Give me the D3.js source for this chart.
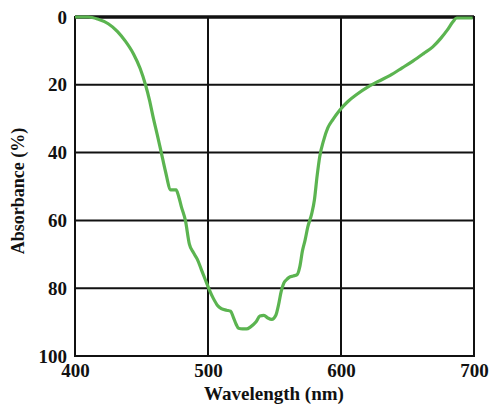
<!DOCTYPE html>
<html>
<head>
<meta charset="utf-8">
<script src="https://cdn.jsdelivr.net/npm/d3@7"></script>
<style>
  body { margin: 0; background: #fff; }
  text { font-family: "Liberation Serif", "DejaVu Serif", serif; font-weight: bold; fill: #111; }
</style>
</head>
<body>
<script>
  // wavelength (nm) / absorbance (%)
  var wavelength = [400, 410, 417, 425, 432, 438, 444, 449, 453, 456, 459, 462, 465, 468, 472, 476, 478, 480, 483, 486, 489, 492, 495, 498, 501, 504, 507, 510, 514, 517, 519, 521, 523, 526, 529, 532, 536, 539, 542, 545, 548, 551, 553, 555, 557, 559, 561, 564, 567, 569, 571, 573, 575, 578, 580, 582, 584, 587, 590, 594, 599, 605, 612, 620, 628, 637, 646, 654, 662, 669, 675, 680, 684, 687, 693, 699];
  var absorbance = [0, 0, 0.6, 2, 4.3, 7.2, 10.9, 15.2, 20, 24.5, 30, 35, 40.2, 45.5, 51, 51, 53, 56, 60, 67, 69.5, 71.5, 74.5, 77.5, 80.5, 83, 85, 86, 86.5, 86.8, 88.5, 90.5, 91.8, 92, 92, 91.4, 90, 88.2, 88, 88.8, 89.2, 88, 85, 81, 78.5, 77.5, 76.8, 76.4, 76, 73.7, 69, 65.8, 62, 58, 54, 47, 41.2, 36.3, 32.8, 30.2, 27.5, 25, 22.8, 20.7, 19, 17.2, 15, 13, 10.8, 8.8, 6.3, 3.8, 1.5, 0.3, 0.3, 0.3];
  var xTicks = [400, 500, 600, 700];
  var yTicks = [0, 20, 40, 60, 80, 100];

  var chart = {
    "width": 493,
    "height": 406,
    "left": 75,
    "right": 474,
    "top": 17,
    "bottom": 356,
    "green": "#5bb450"
  };

  var svg = d3.select("body").append("svg")
    .attr("width", chart.width)
    .attr("height", chart.height);

  var x = d3.scaleLinear().domain([400, 700]).range([chart.left, chart.right]);
  var y = d3.scaleLinear().domain([0, 100]).range([chart.top, chart.bottom]);

  //grid lines
  svg.append("g")
    .selectAll("line")
    .data(yTicks.slice(1, -1))
    .enter().append("line")
    .attr("x1", chart.left).attr("x2", chart.right)
    .attr("y1", function(d){ return y(d); })
    .attr("y2", function(d){ return y(d); })
    .attr("stroke", "#111").attr("stroke-width", 2);
  svg.append("g")
    .selectAll("line")
    .data(xTicks.slice(1, -1))
    .enter().append("line")
    .attr("y1", chart.top).attr("y2", chart.bottom)
    .attr("x1", function(d){ return x(d); })
    .attr("x2", function(d){ return x(d); })
    .attr("stroke", "#111").attr("stroke-width", 2);

  //frame
  svg.append("rect")
    .attr("x", chart.left).attr("y", chart.top)
    .attr("width", chart.right - chart.left)
    .attr("height", chart.bottom - chart.top)
    .attr("fill", "none").attr("stroke", "#111").attr("stroke-width", 2);
  svg.append("line")
    .attr("x1", chart.left).attr("x2", chart.right)
    .attr("y1", y(0)).attr("y2", y(0))
    .attr("stroke", "#111").attr("stroke-width", 3.5);

  //axes, no domain or tick marks
  svg.append("g")
    .attr("transform", "translate(0," + chart.bottom + ")")
    .call(d3.axisBottom(x).tickValues(xTicks).tickSize(0).tickPadding(8));
  svg.append("g")
    .attr("transform", "translate(" + chart.left + ",0)")
    .call(d3.axisLeft(y).tickValues(yTicks).tickSize(0).tickPadding(8));
  svg.selectAll(".domain").remove();
  svg.selectAll(".tick text")
    .attr("font-family", "Liberation Serif, DejaVu Serif, serif")
    .attr("font-weight", "bold")
    .attr("font-size", 19)
    .attr("fill", "#111");

  //curve
  var pts = wavelength.map(function(w, i){ return [w, absorbance[i]]; });
  svg.append("path")
    .datum(pts)
    .attr("fill", "none")
    .attr("stroke", chart.green)
    .attr("stroke-width", 3.2)
    .attr("stroke-linejoin", "round")
    .attr("d", d3.line()
      .x(function(d){ return x(d[0]); })
      .y(function(d){ return y(d[1]); })
      .curve(d3.curveMonotoneX));

  //titles
  svg.append("text")
    .attr("x", 274)
    .attr("y", 400)
    .attr("text-anchor", "middle")
    .attr("font-size", 19)
    .text("Wavelength (nm)");
  svg.append("text")
    .attr("transform", "translate(24,191) rotate(-90)")
    .attr("text-anchor", "middle")
    .attr("font-size", 18)
    .text("Absorbance (%)");
</script>
</body>
</html>
